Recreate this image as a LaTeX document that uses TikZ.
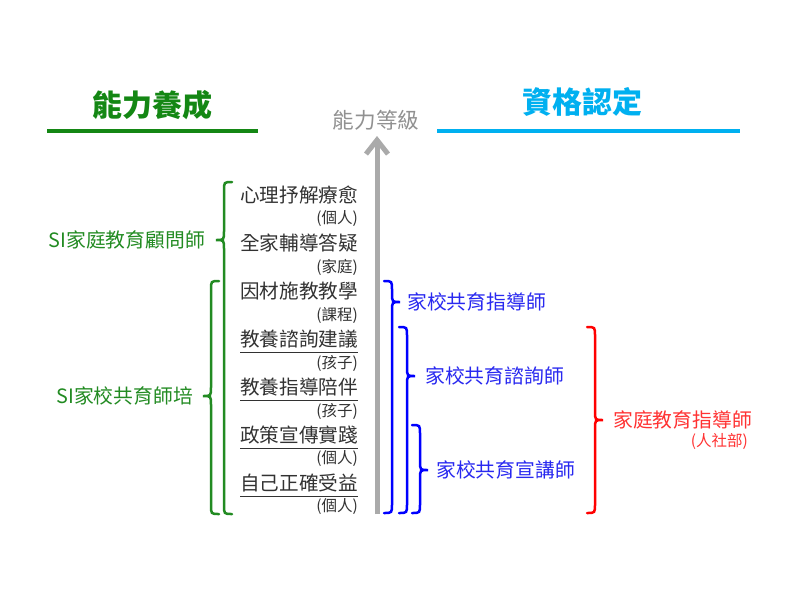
\documentclass[tikz,border=0pt]{standalone}
\usepackage{fontspec}
\setmainfont{Noto Sans CJK TC}
\usepackage{tikz}
\usetikzlibrary{arrows.meta}

\definecolor{headgreen}{RGB}{20,135,20}
\definecolor{bracegreen}{RGB}{34,139,34}
\definecolor{headblue}{RGB}{0,176,240}
\definecolor{braceblue}{RGB}{0,0,255}
\definecolor{textblue}{RGB}{40,40,240}
\definecolor{bracered}{RGB}{255,0,0}
\definecolor{textred}{RGB}{255,50,50}
\definecolor{arrowgray}{RGB}{170,170,170}
\definecolor{itemgray}{RGB}{50,50,50}

% brace with its tip to the left: x, top, tip, bottom
\newcommand{\leftcurl}[5]{%
  \draw[#5, line width=2.5, line cap=round]
    (#1+8,#2) .. controls (#1,#2) .. (#1,#2+9) -- (#1,#3-9)
    .. controls (#1,#3) .. (#1-8,#3) .. controls (#1,#3) .. (#1,#3+9)
    -- (#1,#4-9) .. controls (#1,#4) .. (#1+8,#4);}
% brace with its tip to the right
\newcommand{\rightcurl}[5]{%
  \draw[#5, line width=2.5, line cap=round]
    (#1-8,#2) .. controls (#1,#2) .. (#1,#2+9) -- (#1,#3-9)
    .. controls (#1,#3) .. (#1+8,#3) .. controls (#1,#3) .. (#1,#3+9)
    -- (#1,#4-9) .. controls (#1,#4) .. (#1-8,#4);}

\begin{document}
\begin{tikzpicture}[x=1pt, y=-1pt,
    item/.style={anchor=east, inner sep=0, text=itemgray, font=\fontsize{19.6}{22}\selectfont},
    note/.style={anchor=east, inner sep=0, text=itemgray, font=\fontsize{15.5}{17}\selectfont},
    level/.style={inner sep=0, font=\fontsize{19.8}{22}\selectfont}]
    \useasboundingbox[fill=white] (0,0) rectangle (800,600);

    % headers
    \node[inner sep=0, text=headgreen, font=\fontsize{30}{32}\bfseries] (ability) at (152,105) {能力養成};
    \draw[headgreen, line width=3.3] (47,131) -- (258,131);
    \node[inner sep=0, text=headblue, font=\fontsize{30}{32}\bfseries] (qualify) at (582,102) {資格認定};
    \draw[headblue, line width=3.3] (437,131) -- (740,131);
    \node[inner sep=0, text=arrowgray!85!black, font=\fontsize{21.6}{24}\selectfont] (grade) at (376,120) {能力等級};

    % grade arrow
    \coordinate (arrowbot) at (377,514);
    \coordinate (arrowtop) at (377,136);
    \draw[arrowgray, line width=5, -{Straight Barb[length=14pt,width=22pt]}] (arrowbot) -- (arrowtop);

    % items
    \foreach \n/\t/\s/\y in {1/心理抒解療愈/個人/195, 2/全家輔導答疑/家庭/243,
        3/因材施教教學/課程/291, 4/教養諮詢建議/孩子/339, 5/教養指導陪伴/孩子/387,
        6/政策宣傳實踐/個人/435, 7/自己正確受益/個人/483} {
        \node[item] (item\n) at (358,\y) {\t};
        \node[note] (note\n) at (358,\y+24) {(\s)};
    }
    \foreach \n in {4,5,6,7}
        \draw[itemgray, line width=1.4] ([yshift=-4pt]item\n.south west) -- ([yshift=-4pt]item\n.south east);

    % ability braces
    \leftcurl{224}{182}{240}{514}{bracegreen}
    \leftcurl{211}{281}{396}{514}{bracegreen}
    \node[level, anchor=east, text=bracegreen] (adviser) at (205,240) {SI家庭教育顧問師};
    \node[level, anchor=east, text=bracegreen] (trainer) at (193,396) {SI家校共育師培};

    % qualification braces
    \rightcurl{392}{281}{302}{513}{braceblue}
    \rightcurl{407}{327}{376}{513}{braceblue}
    \rightcurl{420}{425}{470}{513}{braceblue}
    \rightcurl{595}{327}{420}{513}{bracered}
    \node[level, anchor=west, text=textblue] (guide) at (407,302) {家校共育指導師};
    \node[level, anchor=west, text=textblue] (consult) at (425,376) {家校共育諮詢師};
    \node[level, anchor=west, text=textblue] (lecture) at (436,470) {家校共育宣講師};
    \node[level, anchor=west, text=textred] (family) at (613,420) {家庭教育指導師};
    \node[note, text=textred] (ministry) at (748,441) {(人社部)};
\end{tikzpicture}
\end{document}
